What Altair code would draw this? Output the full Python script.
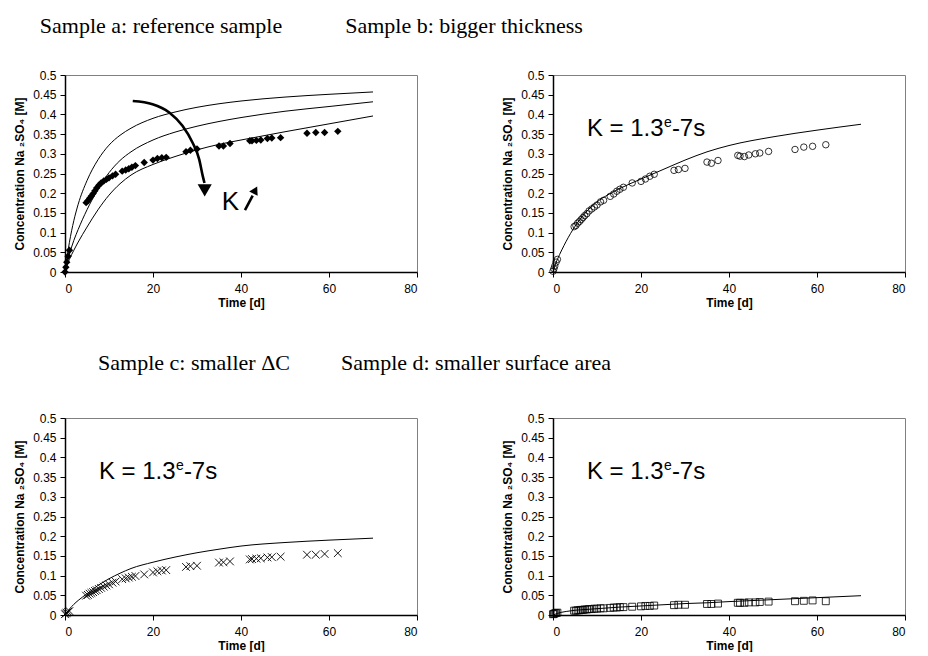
import altair as alt
import pandas as pd

# ---------------- data ----------------
# measurement times [d], shared by the four samples
times = [0, 0.2, 0.4, 0.7, 1.0, 4.8, 5.2, 5.6, 6.0, 6.4, 6.8, 7.2, 7.7, 8.2, 8.8,
         9.4, 10.0, 10.8, 11.5, 13.0, 13.8, 14.5, 15.2, 16.0, 18.0, 20.0, 21.0,
         22.0, 23.0, 27.5, 28.5, 30.0, 35.0, 36.0, 37.5, 42.0, 42.5, 43.5, 44.5,
         46.0, 47.0, 49.0, 55.0, 57.0, 59.0, 62.0]

sample_a = [0, 0.012, 0.025, 0.040, 0.055, 0.176, 0.181, 0.187, 0.193, 0.199,
            0.206, 0.213, 0.220, 0.226, 0.231, 0.235, 0.239, 0.244, 0.248, 0.256,
            0.259, 0.262, 0.266, 0.270, 0.278, 0.284, 0.288, 0.290, 0.291, 0.305,
            0.309, 0.312, 0.320, 0.320, 0.326, 0.333, 0.333, 0.334, 0.335, 0.339,
            0.340, 0.341, 0.352, 0.354, 0.354, 0.357]

sample_b = [0.002, 0.008, 0.015, 0.025, 0.032, 0.115, 0.118, 0.124, 0.128, 0.133,
            0.138, 0.143, 0.148, 0.155, 0.160, 0.165, 0.170, 0.178, 0.182, 0.192,
            0.198, 0.205, 0.210, 0.215, 0.226, 0.230, 0.236, 0.243, 0.248, 0.258,
            0.260, 0.263, 0.279, 0.276, 0.283, 0.296, 0.294, 0.293, 0.297, 0.300,
            0.302, 0.306, 0.311, 0.317, 0.319, 0.323]

sample_c = [0.002, 0.004, 0.006, 0.008, 0.010, 0.049, 0.051, 0.054, 0.056, 0.058,
            0.061, 0.063, 0.066, 0.069, 0.072, 0.075, 0.078, 0.082, 0.085, 0.091,
            0.093, 0.095, 0.097, 0.099, 0.103, 0.108, 0.111, 0.113, 0.114, 0.122,
            0.124, 0.125, 0.133, 0.134, 0.136, 0.141, 0.142, 0.143, 0.144, 0.146,
            0.147, 0.148, 0.153, 0.153, 0.155, 0.157]

sample_d = [0.002, 0.003, 0.004, 0.005, 0.006, 0.011, 0.011, 0.012, 0.012, 0.013,
            0.013, 0.014, 0.014, 0.015, 0.015, 0.016, 0.016, 0.017, 0.017, 0.018,
            0.019, 0.019, 0.020, 0.020, 0.021, 0.022, 0.023, 0.023, 0.024, 0.025,
            0.026, 0.026, 0.028, 0.028, 0.029, 0.031, 0.031, 0.031, 0.032, 0.032,
            0.033, 0.034, 0.035, 0.036, 0.037, 0.035]

# model curves
curve_t = [0, 0.5, 1, 2, 3, 5, 7.5, 10, 12.5, 15, 20, 25, 30, 35, 40, 50, 60, 70]
curve_a_high = [0, 0.040, 0.075, 0.130, 0.172, 0.232, 0.285, 0.322, 0.347, 0.365,
                0.390, 0.406, 0.418, 0.427, 0.434, 0.444, 0.451, 0.457]
curve_a_mid = [0, 0.025, 0.045, 0.080, 0.108, 0.158, 0.210, 0.252, 0.283, 0.305,
               0.335, 0.355, 0.370, 0.382, 0.392, 0.408, 0.420, 0.432]
curve_a_low = [0, 0.018, 0.032, 0.055, 0.076, 0.114, 0.158, 0.195, 0.224, 0.246,
               0.273, 0.293, 0.310, 0.324, 0.335, 0.356, 0.376, 0.396]
curve_b = [0, 0.018, 0.032, 0.056, 0.078, 0.116, 0.152, 0.178, 0.196, 0.211,
           0.236, 0.260, 0.284, 0.305, 0.321, 0.343, 0.360, 0.375]
curve_c = [0, 0.008, 0.015, 0.027, 0.037, 0.054, 0.075, 0.092, 0.106, 0.118,
           0.134, 0.147, 0.158, 0.167, 0.175, 0.184, 0.190, 0.195]
curve_d = [0, 0.002, 0.004, 0.007, 0.009, 0.012, 0.014, 0.016, 0.018, 0.020,
           0.023, 0.026, 0.029, 0.031, 0.034, 0.039, 0.044, 0.049]

panel_titles = ["Sample a: reference sample", "Sample b: bigger thickness",
                "Sample c: smaller \u0394C", "Sample d: smaller surface area"]
x_ticks = [0, 20, 40, 60, 80]
y_ticks = [0, 0.05, 0.1, 0.15, 0.2, 0.25, 0.3, 0.35, 0.4, 0.45, 0.5]
x_title = "Time [d]"
y_title = "Concentration Na \u2082SO\u2084 [M]"

# annotations (data coordinates)
big_arrow_t = [15.4, 19.9, 23.7, 26.7, 29.0, 30.5, 31.3, 31.7]
big_arrow_c = [0.434, 0.426, 0.405, 0.371, 0.328, 0.286, 0.244, 0.226]
big_head = (31.75, 0.207)
small_arrow_t = [40.9, 42.65]
small_arrow_c = [0.157, 0.194]
small_head = (43.25, 0.208)
k_label = ("K", 35.6, 0.1585)
k_value = (["K = 1.3", "e", "-7s"], 7.7, 0.346)

# ---------------- chart ----------------
FONT = "Liberation Sans, Arial, sans-serif"
W, H = 352, 197

X = alt.X("t:Q", scale=alt.Scale(domain=[0, 80], nice=False),
          axis=alt.Axis(values=x_ticks, title=x_title, labelPadding=6, titlePadding=3))
Y = alt.Y("c:Q", scale=alt.Scale(domain=[0, 0.5], nice=False),
          axis=alt.Axis(values=y_ticks, format=".2~f", title=y_title,
                        labelPadding=4, titlePadding=6))


def curves_layer(curves):
    rows = []
    for name, vals in curves:
        for t, c in zip(curve_t, vals):
            rows.append({"t": t, "c": c, "s": name})
    return alt.Chart(pd.DataFrame(rows)).mark_line(
        color="black", strokeWidth=1, interpolate="monotone"
    ).encode(x=X, y=Y, detail="s:N")


def points_layer(vals, **mk):
    df = pd.DataFrame({"t": times, "c": vals})
    return alt.Chart(df).mark_point(opacity=1, **mk).encode(x=X, y=Y)


def k_value_layers():
    parts, t0, c0 = k_value
    df = pd.DataFrame({"t": [t0], "c": [c0]})
    base = alt.Chart(df)
    l1 = base.mark_text(text=parts[0], font=FONT, fontSize=24, align="left",
                        baseline="alphabetic", color="black").encode(x=X, y=Y)
    l2 = base.mark_text(text=parts[1], font=FONT, fontSize=14, align="left",
                        baseline="alphabetic", dx=77, dy=-8.5, color="black").encode(x=X, y=Y)
    l3 = base.mark_text(text=parts[2], font=FONT, fontSize=24, align="left",
                        baseline="alphabetic", dx=85, color="black").encode(x=X, y=Y)
    return [l1, l2, l3]


def titled(layers, title, dx, offset):
    return alt.layer(*layers).properties(
        width=W, height=H,
        title=alt.TitleParams(title, anchor="middle", frame="group", dx=dx, offset=offset),
    )


# panel a annotations
arrow_df = pd.DataFrame({"t": big_arrow_t, "c": big_arrow_c})
arrow_line = alt.Chart(arrow_df).mark_line(color="black", strokeWidth=2.6,
                                           interpolate="monotone").encode(x=X, y=Y)
arrow_head = alt.Chart(pd.DataFrame({"t": [big_head[0]], "c": [big_head[1]]})).mark_point(
    shape="triangle-down", filled=True, color="black", size=200, opacity=1).encode(x=X, y=Y)
small_df = pd.DataFrame({"t": small_arrow_t, "c": small_arrow_c})
small_line = alt.Chart(small_df).mark_line(color="black", strokeWidth=2.6).encode(x=X, y=Y)
small_tip = alt.Chart(pd.DataFrame({"t": [small_head[0]], "c": [small_head[1]]})).mark_point(
    shape="triangle-up", filled=True, color="black", size=90, angle=27, opacity=1).encode(x=X, y=Y)
k_text = alt.Chart(pd.DataFrame({"t": [k_label[1]], "c": [k_label[2]]})).mark_text(
    text=k_label[0], font=FONT, fontSize=26, align="left", baseline="alphabetic",
    color="black").encode(x=X, y=Y)

pa = titled([
    curves_layer([("high", curve_a_high), ("mid", curve_a_mid), ("low", curve_a_low)]),
    points_layer(sample_a, shape="diamond", filled=True, color="black", size=55),
    arrow_line, arrow_head, small_line, small_tip, k_text,
], panel_titles[0], -80, 31)

pb = titled([
    curves_layer([("b", curve_b)]),
    points_layer(sample_b, shape="circle", filled=False, color="black", strokeWidth=0.8, size=42),
    *k_value_layers(),
], panel_titles[1], -265, 31)

pc = titled([
    curves_layer([("c", curve_c)]),
    points_layer(sample_c, shape="M-1,-1L1,1M-1,1L1,-1", filled=False, color="black",
                 strokeWidth=0.9, size=60),
    *k_value_layers(),
], panel_titles[2], -47, 37)

pd_ = titled([
    curves_layer([("d", curve_d)]),
    points_layer(sample_d, shape="square", filled=False, color="black", strokeWidth=0.8, size=48),
    *k_value_layers(),
], panel_titles[3], -253, 37)

chart = alt.concat(
    pa, pb, pc, pd_, columns=2, bounds="flush",
    spacing={"row": 146, "column": 136},
).properties(
    padding={"left": 5, "top": 6, "right": 0, "bottom": 0}
).configure_view(
    stroke="#808080", strokeWidth=1
).configure_axis(
    domainColor="black", domainWidth=1.5, tickColor="black", tickSize=5, grid=False,
    labelColor="black", titleColor="black", labelFont=FONT, titleFont=FONT,
    labelFontSize=12, titleFontSize=12, titleFontWeight="bold"
).configure_title(
    font="Liberation Serif, Times New Roman, serif", fontSize=22, fontWeight="normal", color="black"
)

chart.save("out.html", embed_options={"renderer": "svg", "actions": False})
